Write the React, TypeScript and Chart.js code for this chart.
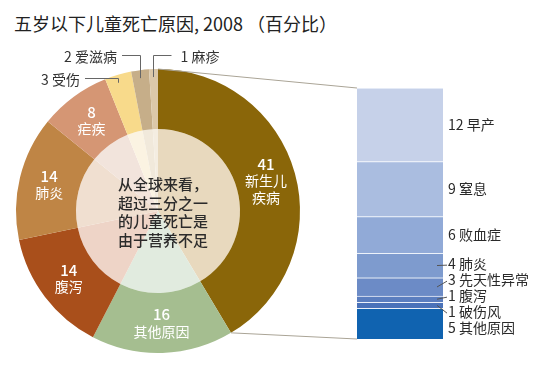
import React, { useEffect, useRef } from 'react';
import { Chart, registerables } from 'chart.js';

Chart.register(...registerables);

const titleText = '五岁以下儿童死亡原因, 2008 （百分比）';

// Main doughnut: causes clockwise from 12 o'clock
const causes = ['新生儿疾病', '其他原因', '腹泻', '肺炎', '疟疾', '受伤', '爱滋病', '麻疹'];
const causeValues = [41, 16, 14, 14, 8, 3, 2, 1];
const outerColors = ['#8a6609', '#a5be90', '#a94f1b', '#bf8545', '#d59674', '#f8da8b', '#c6ae89', '#dcc8a9'];
const innerColors = ['#e8d9be', '#e1ebdf', '#eed4c7', '#f0dfd0', '#f2e4dc', '#fbf3e2', '#f1e9db', '#f4ede1'];
const centerLines = ['从全球来看，', '超过三分之一', '的儿童死亡是', '由于营养不足'];

// Breakdown of neonatal causes, top to bottom
const neonatalCauses = ['早产', '窒息', '败血症', '肺炎', '先天性异常', '腹泻', '破伤风', '其他原因'];
const neonatalValues = [12, 9, 6, 4, 3, 1, 1, 5];
const neonatalColors = ['#c6d1e9', '#aabde0', '#91aad7', '#7e9bce', '#6c8bc6', '#5b7ebf', '#4a72b9', '#1063b0'];

const FONT = '"Noto Sans CJK SC", "Noto Sans", sans-serif';
const W = 554;
const H = 384;

function wrapName(name: string): string[] {
  return name.length > 4 ? [name.slice(0, 3), name.slice(3)] : [name];
}

const doughnutLabels = {
  id: 'doughnutLabels',
  afterDatasetsDraw(chart: any) {
    const ctx = chart.ctx as CanvasRenderingContext2D;
    const meta = chart.getDatasetMeta(0);
    ctx.save();
    const top = chart.chartArea.top;
    const smallOnes: any[] = [];
    meta.data.forEach((arc: any, i: number) => {
      const p = arc.getProps(['x', 'y', 'startAngle', 'endAngle', 'innerRadius', 'outerRadius'], true);
      const mid = (p.startAngle + p.endAngle) / 2;
      if (causeValues[i] >= 5) {
        const r = (p.innerRadius + p.outerRadius) / 2;
        const cx = p.x + r * Math.cos(mid);
        const cy = p.y + r * Math.sin(mid);
        const lines = [String(causeValues[i]), ...wrapName(causes[i])];
        const lh = 16.5;
        ctx.fillStyle = '#ffffff';
        ctx.textAlign = 'center';
        ctx.textBaseline = 'middle';
        lines.forEach((t, j) => {
          ctx.font = j === 0 ? `500 15px ${FONT}` : `14px ${FONT}`;
          ctx.fillText(t, cx, cy + (j - (lines.length - 1) / 2) * lh);
        });
      } else {
        const px = p.x + p.outerRadius * Math.cos(mid);
        const py = p.y + p.outerRadius * Math.sin(mid);
        smallOnes.push({ i, px, py, left: px < p.x - 10, dist: Math.abs(px - p.x) });
      }
    });
    // external labels with elbow leaders
    ['left', 'right'].forEach((side) => {
      const group = smallOnes
        .filter((s) => (side === 'left') === s.left)
        .sort((a, b) => a.dist - b.dist);
      group.forEach((s, k) => {
        const elbowY = top - 14 + k * 23;
        const len = 18 + k * 15;
        const dir = s.left ? -1 : 1;
        const endX = s.px + dir * len;
        ctx.strokeStyle = '#666';
        ctx.lineWidth = 1;
        ctx.beginPath();
        ctx.moveTo(Math.round(s.px) + 0.5, s.py + 8);
        ctx.lineTo(Math.round(s.px) + 0.5, Math.round(elbowY) + 0.5);
        ctx.lineTo(endX, Math.round(elbowY) + 0.5);
        ctx.stroke();
        ctx.fillStyle = '#333';
        ctx.font = `14px ${FONT}`;
        ctx.textBaseline = 'middle';
        ctx.textAlign = s.left ? 'right' : 'left';
        ctx.fillText(`${causeValues[s.i]} ${causes[s.i]}`, endX + dir * (s.left ? 5 : 9), elbowY + 2);
      });
    });
    // center text
    const a0 = meta.data[0];
    ctx.fillStyle = '#2b2b2b';
    ctx.font = `500 15px ${FONT}`;
    ctx.textAlign = 'center';
    ctx.textBaseline = 'middle';
    centerLines.forEach((t, j) => {
      ctx.fillText(t, a0.x + 5, a0.y + 1.5 + (j - (centerLines.length - 1) / 2) * 18.5);
    });
    ctx.restore();
  },
};

function makeBarPlugin(getDonut: () => any) {
  return {
    id: 'barLabels',
    beforeDatasetsDraw(chart: any) {
      const donut = getDonut();
      if (!donut) return;
      const arc = donut.getDatasetMeta(0).data[0];
      const p = arc.getProps(['x', 'y', 'startAngle', 'endAngle', 'outerRadius'], true);
      const area = chart.chartArea;
      const ctx = chart.ctx as CanvasRenderingContext2D;
      ctx.save();
      ctx.strokeStyle = '#aaa496';
      ctx.lineWidth = 1;
      ctx.beginPath();
      ctx.moveTo(p.x + p.outerRadius * Math.cos(p.startAngle), p.y + p.outerRadius * Math.sin(p.startAngle));
      ctx.lineTo(area.left, area.top);
      ctx.moveTo(p.x + p.outerRadius * Math.cos(p.endAngle), p.y + p.outerRadius * Math.sin(p.endAngle));
      ctx.lineTo(area.left, area.bottom);
      ctx.stroke();
      ctx.restore();
    },
    afterDatasetsDraw(chart: any) {
      const ctx = chart.ctx as CanvasRenderingContext2D;
      const n = neonatalValues.length;
      // items top to bottom
      const items: any[] = [];
      for (let k = 0; k < n; k++) {
        const dsIndex = n - 1 - k;
        const el = chart.getDatasetMeta(dsIndex).data[0];
        const top = Math.min(el.y, el.base);
        const bottom = Math.max(el.y, el.base);
        items.push({ k, center: (top + bottom) / 2, h: bottom - top, right: el.x + el.width / 2 });
      }
      // cluster-based spreading with min gap
      const gap = 16;
      const clusters: any[] = items.map((it) => ({ members: [it] }));
      const layout = (c: any) => {
        const m = c.members.length;
        const mean = c.members.reduce((s: number, it: any) => s + it.center, 0) / m;
        c.start = mean - ((m - 1) * gap) / 2;
      };
      clusters.forEach(layout);
      let changed = true;
      while (changed) {
        changed = false;
        for (let i = 0; i < clusters.length - 1; i++) {
          const a: any = clusters[i];
          const b: any = clusters[i + 1];
          const aEnd = a.start + (a.members.length - 1) * gap;
          if (b.start - aEnd < gap) {
            const merged: any = { members: [...a.members, ...b.members] };
            layout(merged);
            clusters.splice(i, 2, merged);
            changed = true;
            break;
          }
        }
      }
      clusters.forEach((c: any) => c.members.forEach((it: any, j: number) => (it.labelY = c.start + j * gap)));

      ctx.save();
      items.forEach((it) => {
        const x0 = it.right;
        if (it.h < 30) {
          ctx.strokeStyle = '#555';
          ctx.lineWidth = 1;
          ctx.beginPath();
          ctx.moveTo(x0 - 6, it.center);
          ctx.lineTo(x0 + 4, it.labelY + 1);
          ctx.stroke();
        }
        ctx.fillStyle = '#2a2a2a';
        ctx.font = `14px ${FONT}`;
        ctx.textAlign = 'left';
        ctx.textBaseline = 'middle';
        ctx.fillText(`${neonatalValues[it.k]} ${neonatalCauses[it.k]}`, x0 + 5, it.labelY);
      });
      ctx.restore();
    },
  };
}

export default function App() {
  const donutRef = useRef<HTMLCanvasElement>(null);
  const barRef = useRef<HTMLCanvasElement>(null);

  useEffect(() => {
    let donut: any = null;
    donut = new Chart(donutRef.current!, {
      type: 'doughnut',
      data: {
        labels: causes,
        datasets: [
          { data: causeValues, backgroundColor: outerColors, borderWidth: 0, weight: 60, hoverOffset: 0 } as any,
          { data: causeValues, backgroundColor: innerColors, borderWidth: 0, weight: 82, hoverOffset: 0 } as any,
        ],
      },
      options: {
        responsive: false,
        animation: false,
        cutout: 0,
        layout: { padding: { left: 16, top: 69, right: W - 300, bottom: H - 353 } },
        plugins: { legend: { display: false }, tooltip: { enabled: false } },
        events: [],
      },
      plugins: [doughnutLabels],
    });

    const bottomUp = neonatalValues.map((_, i) => neonatalValues.length - 1 - i);
    const total = neonatalValues.reduce((s, v) => s + v, 0);
    const bar = new Chart(barRef.current!, {
      type: 'bar',
      data: {
        labels: ['新生儿疾病'],
        datasets: bottomUp.map((idx) => ({
          label: neonatalCauses[idx],
          data: [neonatalValues[idx]],
          backgroundColor: neonatalColors[idx],
          borderColor: 'rgba(236,241,250,0.95)',
          borderWidth: { top: 1, bottom: 0, left: 0, right: 0 },
          borderSkipped: false,
          barPercentage: 1,
          categoryPercentage: 1,
        })) as any,
      },
      options: {
        responsive: false,
        animation: false,
        layout: { padding: { left: 357, top: 88, right: W - 443, bottom: H - 339 } },
        scales: {
          x: { display: false, stacked: true },
          y: { display: false, stacked: true, min: 0, max: total, grace: 0 },
        },
        plugins: { legend: { display: false }, tooltip: { enabled: false } },
        events: [],
      },
      plugins: [makeBarPlugin(() => donut)],
    });

    return () => {
      bar.destroy();
      donut.destroy();
    };
  }, []);

  return (
    <div style={{ position: 'fixed', left: 0, top: 0, width: W, height: H, background: '#fff', overflow: 'hidden' }}>
      <div
        style={{
          position: 'absolute',
          left: 14,
          top: 10,
          fontFamily: FONT,
          fontSize: 18,
          lineHeight: '26px',
          color: '#222',
          whiteSpace: 'nowrap',
        }}
      >
        {titleText}
      </div>
      <canvas ref={donutRef} width={W} height={H} style={{ position: 'absolute', left: 0, top: 0 }} />
      <canvas ref={barRef} width={W} height={H} style={{ position: 'absolute', left: 0, top: 0 }} />
    </div>
  );
}
